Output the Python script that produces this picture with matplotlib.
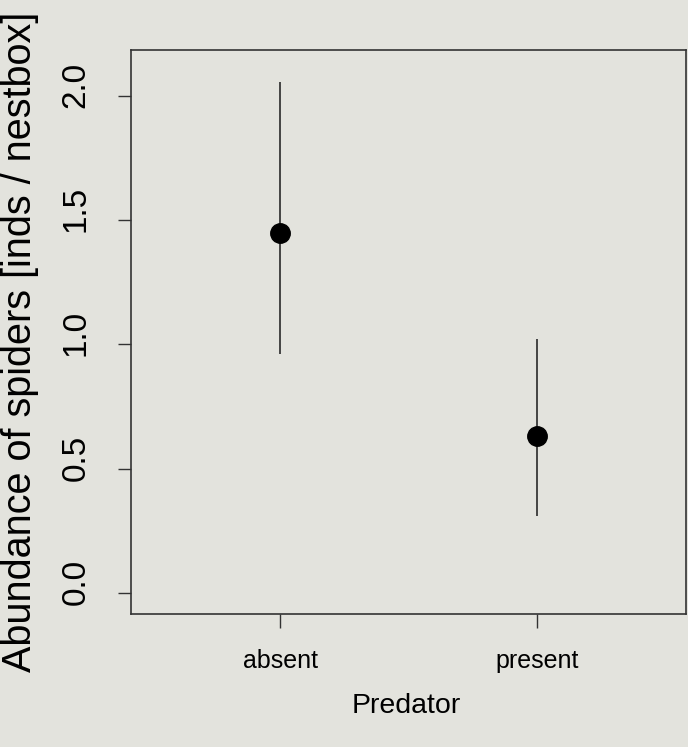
import numpy as np
import matplotlib.pyplot as plt
import matplotlib.transforms as mtransforms

plt.rcParams['font.family'] = ['Liberation Sans', 'DejaVu Sans']

groups = ["absent", "present"]
means = [1.45, 0.632]
lower = [0.96, 0.31]
upper = [2.055, 1.02]

bg = "#e3e3dd"
fig = plt.figure(figsize=(6.88, 7.47), dpi=100, facecolor=bg)
ax = fig.add_axes([131 / 688, 1 - 614 / 747, 555 / 688, 564 / 747])
ax.set_facecolor(bg)

x = np.arange(1, len(groups) + 1)
ax.vlines(x, lower, upper, color="#1a1a1a", lw=1.1)
ax.plot(x, means, "o", color="black", ms=14)

ax.set_xlim(0.42, 2.58)
ax.set_ylim(-0.084, 2.184)
ax.set_xticks(x)
ax.set_xticklabels(groups, fontsize=18)
ax.set_yticks([0.0, 0.5, 1.0, 1.5, 2.0])
ax.set_yticklabels(["0.0", "0.5", "1.0", "1.5", "2.0"], rotation=90,
                   va="center", fontsize=24)
ax.tick_params(axis="x", length=10, width=1, color="#333333", pad=15)
ax.tick_params(axis="y", length=9.5, width=1, color="#333333", pad=19)
for s in ax.spines.values():
    s.set_color("#333333")
    s.set_linewidth(1.2)

# labels in the scan sit a little above their ticks
shift = mtransforms.ScaledTranslation(0, 8 / 72, fig.dpi_scale_trans)
for lab in ax.get_yticklabels():
    lab.set_transform(lab.get_transform() + shift)

fig.text(406 / 688, 1 - 706 / 747, "Predator", ha="center", va="center",
         fontsize=20.5)
fig.text(20 / 688, 1 - 342 / 747, "Abundance of spiders [inds / nestbox]",
         rotation=90, ha="center", va="center", fontsize=28.5)

fig.savefig("out.png", dpi=100, facecolor=bg)
